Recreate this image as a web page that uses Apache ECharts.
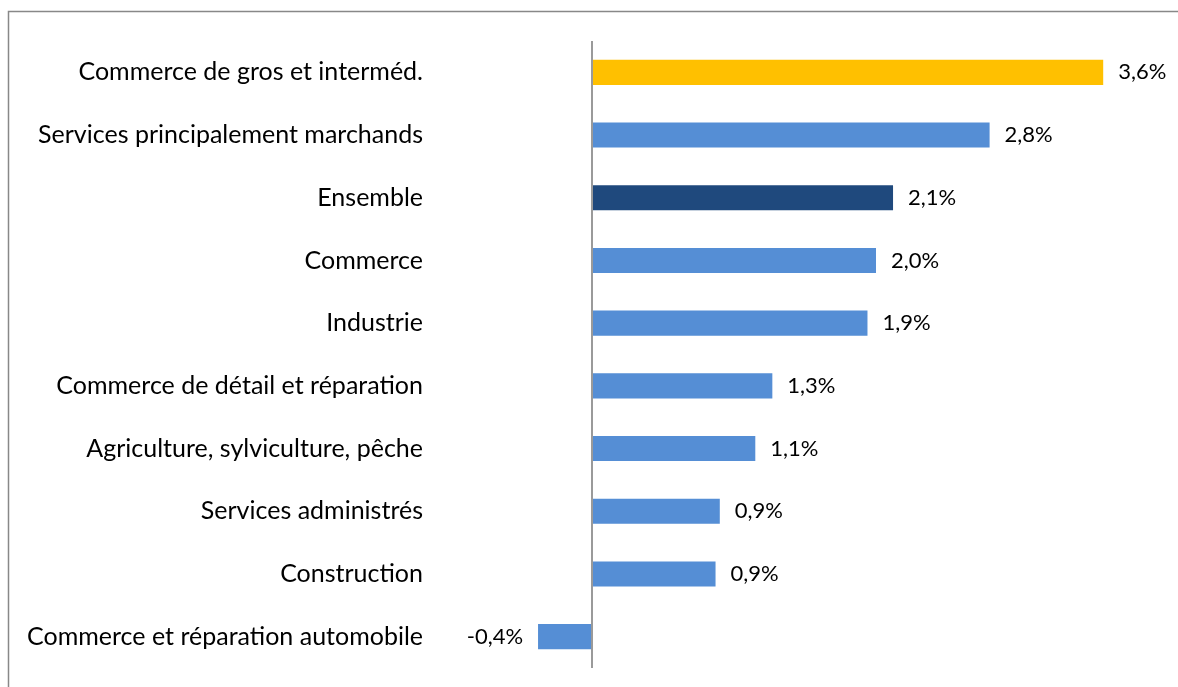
<!DOCTYPE html>
<html><head><meta charset="utf-8">
<script src="https://cdn.jsdelivr.net/npm/echarts@6/dist/echarts.min.js"></script>
<style>html,body{margin:0;padding:0;background:#fff}#c{width:1178px;height:687px}</style>
</head><body><div id="c"></div>
<script>
const categories = [
  "Commerce de gros et interméd.",
  "Services principalement marchands",
  "Ensemble",
  "Commerce",
  "Industrie",
  "Commerce de détail et réparation",
  "Agriculture, sylviculture, pêche",
  "Services administrés",
  "Construction",
  "Commerce et réparation automobile"
];
const values = [3.6, 2.8, 2.12, 2.0, 1.94, 1.27, 1.15, 0.9, 0.87, -0.38];
const barColors = ["#FFC000", "#558ED5", "#1F497D", "#558ED5", "#558ED5", "#558ED5", "#558ED5", "#558ED5", "#558ED5", "#558ED5"];
const FONT = "Lato";

const chart = echarts.init(document.getElementById('c'), null, {renderer: 'canvas'});
const fmt = v => v.toFixed(1).replace('.', ',') + '%';
chart.setOption({
  animation: false,
  graphic: [{
    type: 'rect', shape: {x: 8.5, y: 11.5, width: 1300, height: 800},
    style: {fill: 'none', stroke: '#888888', lineWidth: 1.5}, silent: true
  }],
  grid: {left: 521, right: 18, top: 41, bottom: 19, containLabel: false},
  xAxis: {
    type: 'value', min: -0.5, max: 4.0, show: false
  },
  yAxis: {
    type: 'category', data: categories, inverse: true,
    axisLine: {show: false, onZero: false}, axisTick: {show: false},
    axisLabel: {margin: 98, color: '#000', fontFamily: FONT, fontSize: 25}
  },
  series: [{
    type: 'bar', barCategoryGap: '60%',
    data: values.map((v, i) => ({
      value: v,
      itemStyle: {color: barColors[i]},
      label: {show: true, position: v < 0 ? 'left' : 'right', distance: 15,
        formatter: p => fmt(p.value), color: '#000', fontFamily: FONT, fontSize: 22}
    })),
    markLine: {
      silent: true, symbol: 'none', label: {show: false},
      lineStyle: {color: '#9a9a9a', width: 2, type: 'solid'},
      data: [{xAxis: 0}]
    }
  }]
});
</script></body></html>
